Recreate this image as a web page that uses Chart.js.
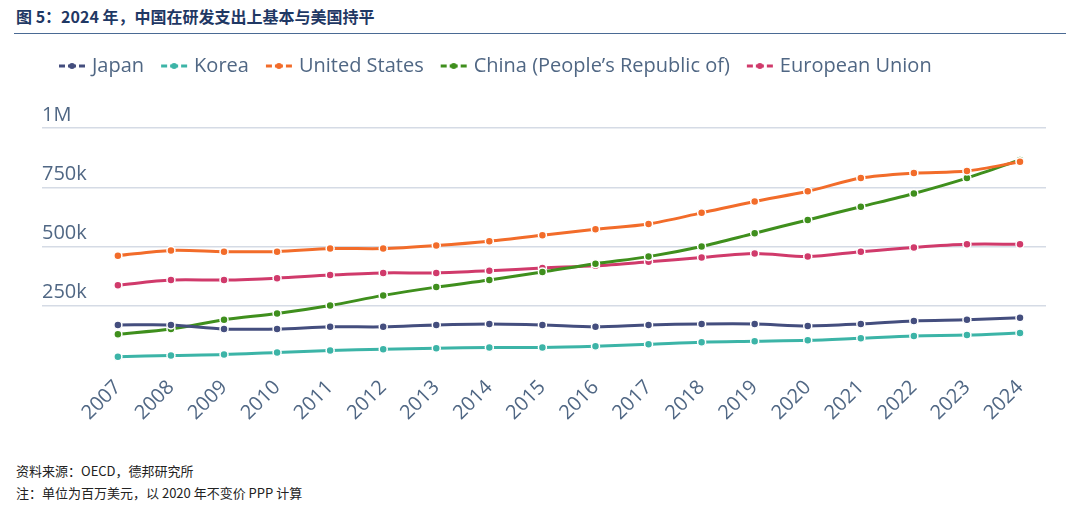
<!DOCTYPE html>
<html><head><meta charset="utf-8">
<script src="https://cdn.jsdelivr.net/npm/chart.js@4/dist/chart.umd.min.js"></script>
<style>
body{margin:0;width:1080px;height:505px;background:#fff;position:relative;overflow:hidden;font-family:"Noto Sans CJK SC","Noto Sans",sans-serif}
#title{position:absolute;left:16px;top:4px;font-size:16px;font-weight:bold;color:#1f3864}
#rule{position:absolute;left:14px;right:14px;top:33px;border-top:1.5px solid #4a6a94}
#c{position:absolute;left:0;top:36px}
.f{position:absolute;left:16px;font-size:13px;color:#222}
</style></head><body>
<div id="title">图 5：2024 年，中国在研发支出上基本与美国持平</div>
<div id="rule"></div>
<canvas id="c" width="1080" height="422"></canvas>
<div class="f" style="top:461px">资料来源：OECD，德邦研究所</div>
<div class="f" style="top:483px">注：单位为百万美元，以 2020 年不变价 PPP 计算</div>
<script>
const years=[2007,2008,2009,2010,2011,2012,2013,2014,2015,2016,2017,2018,2019,2020,2021,2022,2023,2024];
const japan=[168,168,151,151,160,160,168,172,168,160,168,172,172,164,172,185,190,198];
const korea=[34,39,43,52,60,65,69,73,73,78,86,95,99,103,112,121,125,134];
const us=[461,483,478,478,491,491,504,522,547,573,595,642,690,733,789,810,819,858];
const china=[129,151,190,216,250,293,328,358,392,427,457,500,556,612,668,724,789,866];
const eu=[336,358,358,366,379,388,388,397,409,418,435,453,470,457,478,496,509,509];
const yTicks=[250000,500000,750000,1000000];
const yTickLabels=['250k','500k','750k','1M'];
const series=[['Japan',japan,'#444e7e'],['Korea',korea,'#3cb4a7'],['United States',us,'#f26c2a'],['China (People’s Republic of)',china,'#3f8f1d'],['European Union',eu,'#d03a6b']];
function icon(col){const c=document.createElement('canvas');c.width=30;c.height=10;const g=c.getContext('2d');g.strokeStyle=col;g.lineWidth=3;g.beginPath();g.moveTo(2,5);g.lineTo(28,5);g.stroke();g.fillStyle='#fff';g.fillRect(8,1,3,8);g.fillRect(19,1,3,8);g.fillStyle=col;g.beginPath();g.arc(15,5,3,0,7);g.fill();return c;}
const yLabels={id:'yl',afterDraw(ch){const g=ch.ctx,s=ch.scales.y;g.save();g.font='20px "Open Sans"';g.fillStyle='#506784';g.textBaseline='bottom';g.textAlign='left';yTicks.forEach((v,i)=>g.fillText(yTickLabels[i],ch.chartArea.left,s.getPixelForValue(v)-3));g.restore();}};
const legendGap={id:'lg',beforeInit(ch){const f=ch.legend.fit;ch.legend.fit=function(){f.bind(ch.legend)();this.height+=28;};}};
new Chart(document.getElementById('c'),{type:'line',
data:{datasets:series.map(([n,d,c])=>({label:n,data:d.map((v,i)=>({x:years[i],y:v*1000})),borderColor:c,backgroundColor:c,borderWidth:3,tension:0.3,pointRadius:4,pointBorderColor:'#fff',pointBorderWidth:1.5,pointStyle:'circle'}))},
options:{animation:false,responsive:false,
layout:{padding:{left:42,right:34,top:0,bottom:30}},
plugins:{tooltip:{enabled:false},legend:{align:'start',labels:{usePointStyle:true,font:{size:20,family:'"Open Sans"'},color:'#506784',padding:20,generateLabels(ch){return ch.data.datasets.map((d,i)=>({text:d.label,pointStyle:icon(d.borderColor),fontColor:'#506784',strokeStyle:d.borderColor,lineWidth:0,datasetIndex:i}));}}}},
scales:{x:{type:'linear',min:2005.57,max:2024.49,grid:{display:false},border:{display:false},
afterBuildTicks(s){s.ticks=years.map(v=>({value:v}));},
ticks:{autoSkip:false,maxRotation:45,minRotation:45,font:{size:20,family:'"Open Sans"'},color:'#506784',callback:v=>String(v)}},
y:{min:0,max:1060000,border:{display:false},afterBuildTicks(s){s.ticks=yTicks.map(v=>({value:v}));},
grid:{color:'#d5dbe5',lineWidth:1.5,drawTicks:false},ticks:{display:false}}}},
plugins:[yLabels,legendGap]});
</script>
</body></html>
